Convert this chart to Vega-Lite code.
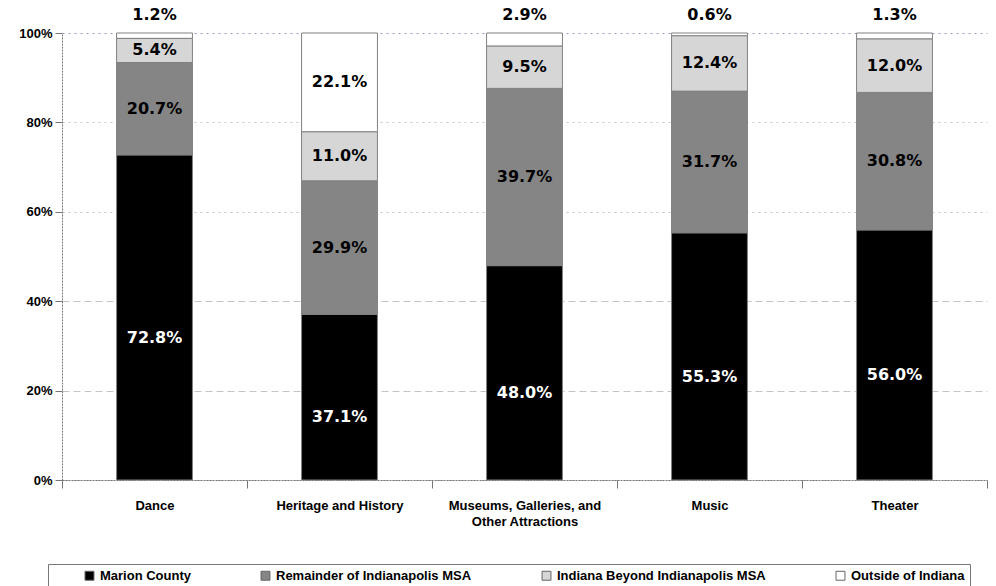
{
  "$schema": "https://vega.github.io/schema/vega-lite/v6.json",
  "width": 925,
  "height": 447,
  "autosize": {"type": "none"},
  "padding": {"left": 62, "top": 33, "right": 9, "bottom": 106},
  "background": "white",
  "config": {"view": {"stroke": null}},
  "data": {"values": [
    {"cat": "Dance", "region": "Marion County", "ord": 1, "pct": 72.8},
    {"cat": "Dance", "region": "Remainder of Indianapolis MSA", "ord": 2, "pct": 20.7},
    {"cat": "Dance", "region": "Indiana Beyond Indianapolis MSA", "ord": 3, "pct": 5.4},
    {"cat": "Dance", "region": "Outside of Indiana", "ord": 4, "pct": 1.2},
    {"cat": "Heritage and History", "region": "Marion County", "ord": 1, "pct": 37.1},
    {"cat": "Heritage and History", "region": "Remainder of Indianapolis MSA", "ord": 2, "pct": 29.9},
    {"cat": "Heritage and History", "region": "Indiana Beyond Indianapolis MSA", "ord": 3, "pct": 11.0},
    {"cat": "Heritage and History", "region": "Outside of Indiana", "ord": 4, "pct": 22.1},
    {"cat": "Museums, Galleries, and Other Attractions", "region": "Marion County", "ord": 1, "pct": 48.0},
    {"cat": "Museums, Galleries, and Other Attractions", "region": "Remainder of Indianapolis MSA", "ord": 2, "pct": 39.7},
    {"cat": "Museums, Galleries, and Other Attractions", "region": "Indiana Beyond Indianapolis MSA", "ord": 3, "pct": 9.5},
    {"cat": "Museums, Galleries, and Other Attractions", "region": "Outside of Indiana", "ord": 4, "pct": 2.9},
    {"cat": "Music", "region": "Marion County", "ord": 1, "pct": 55.3},
    {"cat": "Music", "region": "Remainder of Indianapolis MSA", "ord": 2, "pct": 31.7},
    {"cat": "Music", "region": "Indiana Beyond Indianapolis MSA", "ord": 3, "pct": 12.4},
    {"cat": "Music", "region": "Outside of Indiana", "ord": 4, "pct": 0.6},
    {"cat": "Theater", "region": "Marion County", "ord": 1, "pct": 56.0},
    {"cat": "Theater", "region": "Remainder of Indianapolis MSA", "ord": 2, "pct": 30.8},
    {"cat": "Theater", "region": "Indiana Beyond Indianapolis MSA", "ord": 3, "pct": 12.0},
    {"cat": "Theater", "region": "Outside of Indiana", "ord": 4, "pct": 1.3}
  ]},
  "transform": [
    {"stack": "pct", "groupby": ["cat"], "sort": [{"field": "ord", "order": "ascending"}], "offset": "normalize", "as": ["y0", "y1"]},
    {"calculate": "(datum.y0 + datum.y1) / 2", "as": "mid"},
    {"calculate": "datum.region == 'Outside of Indiana' && datum.pct < 5 ? 1.04 : (datum.region == 'Marion County' ? datum.mid - 0.045 : datum.mid)", "as": "ly"},
    {"calculate": "format(datum.pct, '.1f') + '%'", "as": "lbl"}
  ],
  "encoding": {
    "x": {
      "field": "cat", "type": "nominal",
      "sort": ["Dance", "Heritage and History", "Museums, Galleries, and Other Attractions", "Music", "Theater"],
      "scale": {"paddingInner": 0, "paddingOuter": 0},
      "axis": {
        "title": null, "labelAngle": 0, "tickBand": "extent", "tickSize": 8,
        "domainColor": "#777", "domainDash": [2, 1], "tickColor": "#777",
        "labelFont": "Liberation Sans", "labelFontWeight": "bold", "labelFontSize": 13, "labelColor": "black",
        "labelPadding": 11, "labelLineHeight": 16,
        "labelExpr": "datum.label == 'Museums, Galleries, and Other Attractions' ? ['Museums, Galleries, and', 'Other Attractions'] : datum.label"
      }
    }
  },
  "layer": [
    {
      "mark": {"type": "bar", "width": {"band": 0.41}, "stroke": "#808080", "strokeWidth": 1},
      "encoding": {
        "y": {
          "field": "y0", "type": "quantitative",
          "scale": {"domain": [0, 1], "nice": false},
          "axis": {
            "title": null, "values": [0, 0.2, 0.4, 0.6, 0.8, 1], "format": ".0%",
            "labelFont": "Liberation Sans", "labelFontWeight": "bold", "labelFontSize": 13, "labelColor": "black",
            "tickSize": 7, "tickColor": "#777", "domainColor": "#777", "domainDash": [2, 1], "labelPadding": 3,
            "grid": true,
            "gridColor": {"condition": {"test": "datum.value == 1", "value": "#9a9acc"}, "value": "#c4c4c4"},
            "gridDash": {"condition": {"test": "datum.value >= 0.6", "value": [2, 4]}, "value": [7, 4]}
          }
        },
        "y2": {"field": "y1"},
        "color": {
          "field": "region", "type": "nominal",
          "scale": {
            "domain": ["Marion County", "Remainder of Indianapolis MSA", "Indiana Beyond Indianapolis MSA", "Outside of Indiana"],
            "range": ["#000000", "#858585", "#d6d6d6", "#ffffff"]
          },
          "legend": {
            "title": null, "orient": "none", "legendX": -14, "legendY": 531, "direction": "horizontal",
            "symbolType": "square", "symbolSize": 80, "symbolStrokeColor": "#666", "symbolStrokeWidth": 1,
            "symbolOffset": 30, "labelOffset": 4, "labelLimit": 400,
            "labelFont": "Liberation Sans", "labelFontWeight": "bold", "labelFontSize": 13, "labelColor": "black",
            "columnPadding": 38, "strokeColor": "#777", "padding": 5
          }
        }
      }
    },
    {
      "mark": {"type": "text", "font": "DejaVu Sans", "fontWeight": "bold", "fontSize": 16, "baseline": "middle"},
      "encoding": {
        "y": {"field": "ly", "type": "quantitative"},
        "text": {"field": "lbl", "type": "nominal"},
        "color": {"condition": {"test": "datum.region == 'Marion County'", "value": "white"}, "value": "black"}
      }
    }
  ]
}
